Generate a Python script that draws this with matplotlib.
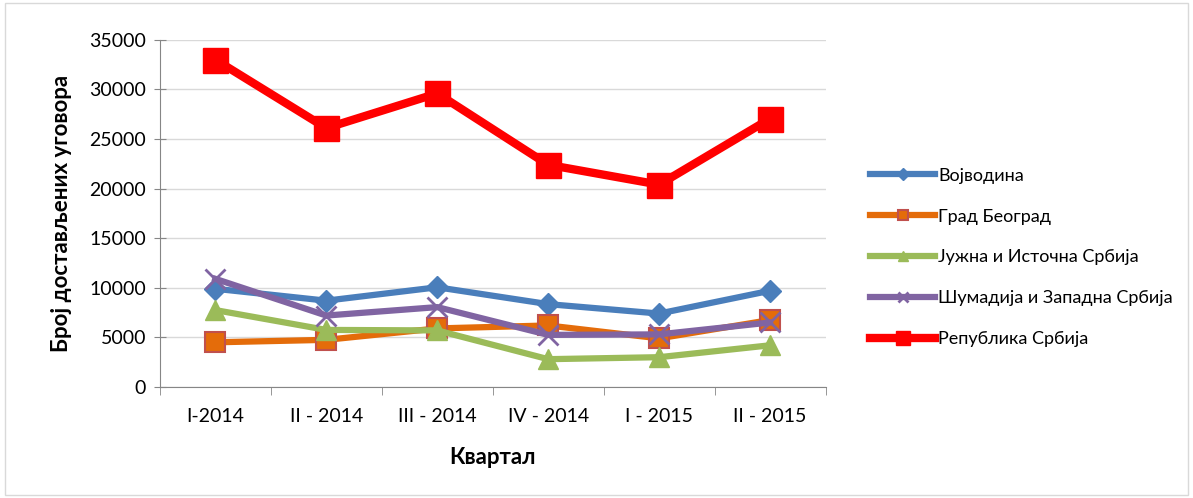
import matplotlib
matplotlib.use('Agg')
from matplotlib import pyplot as plt
from matplotlib.patches import Rectangle

plt.rcParams['font.family'] = ['Lato', 'DejaVu Sans']

quarters = ['I-2014', 'II - 2014', 'III - 2014', 'IV - 2014', 'I - 2015', 'II - 2015']
vojvodina = [9900, 8700, 10050, 8350, 7400, 9700]
beograd = [4500, 4750, 5900, 6200, 4900, 6750]
juzna = [7750, 5750, 5700, 2800, 3000, 4200]
sumadija = [10900, 7200, 8050, 5250, 5300, 6500]
srbija = [33000, 26100, 29600, 22400, 20400, 27050]

fig = plt.figure(figsize=(11.93, 4.98), dpi=100)
ax = fig.add_axes([0.134, 0.223, 0.558, 0.697])
x = range(len(quarters))

ax.plot(x, vojvodina, color='#4a7ebb', lw=4.5, marker='D', ms=11,
        mfc='#4a7ebb', mec='#4a7ebb', label='Војводина', zorder=3)
ax.plot(x, beograd, color='#e46c0a', lw=4.5, marker='s', ms=14,
        mfc='#e46c0a', mec='#c0504d', mew=1.5, label='Град Београд', zorder=3)
ax.plot(x, juzna, color='#9bbb59', lw=4.5, marker='^', ms=14,
        mfc='#9bbb59', mec='#9bbb59', label='Јужна и Источна Србија', zorder=3)
ax.plot(x, sumadija, color='#8064a2', lw=4.5, marker='x', ms=14, mew=2,
        mec='#8064a2', label='Шумадија и Западна Србија', zorder=3)
ax.plot(x, srbija, color='#ff0000', lw=6, marker='s', ms=18,
        mfc='#ff0000', mec='#ff0000', label='Република Србија', zorder=3)

ax.set_xlim(-0.5, 5.5)
ax.set_ylim(0, 35000)
ax.set_yticks(range(0, 35001, 5000))
ax.set_xticks(x)
ax.set_xticklabels(quarters)
ax.set_xticks([i - 0.5 for i in range(7)], minor=True)
ax.tick_params(axis='x', which='major', length=0, labelsize=14, pad=15)
ax.tick_params(axis='x', which='minor', length=6, color='#868686', direction='out')
ax.tick_params(axis='y', length=8, color='#868686', labelsize=14, direction='inout', pad=6)
ax.grid(axis='y', color='#d9d9d9', lw=1)
ax.set_axisbelow(True)
for s in ['top', 'right']:
    ax.spines[s].set_visible(False)
ax.spines['left'].set_color('#868686')
ax.spines['bottom'].set_color('#868686')

ax.set_xlabel('Квартал', fontsize=16, fontweight='bold', labelpad=16)
ax.set_ylabel('Број достављених уговора', fontsize=16, fontweight='bold', labelpad=12)

leg = fig.legend(loc='center left', bbox_to_anchor=(0.716, 0.483), frameon=False,
                 fontsize=13, handlelength=3.6, labelspacing=1.38, markerscale=0.55,
                 handletextpad=0.15)

fig.patches.append(Rectangle((0.004, 0.006), 0.992, 0.988, transform=fig.transFigure,
                             fill=False, edgecolor='#d9d9d9', lw=1))

fig.savefig('out.png', dpi=100)
